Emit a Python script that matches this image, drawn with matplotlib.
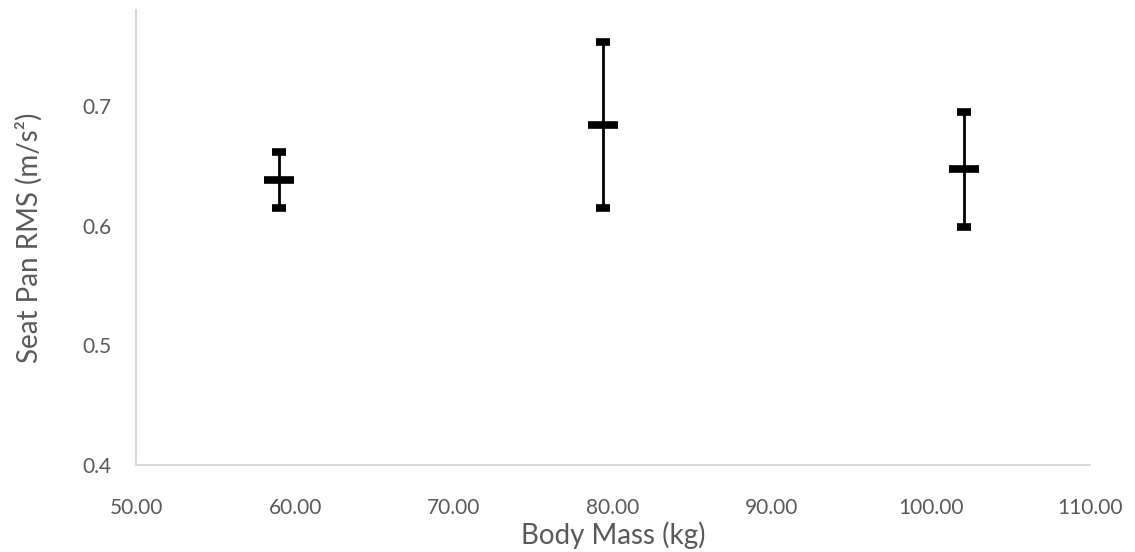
import matplotlib
matplotlib.use("Agg")
import matplotlib.pyplot as plt

# Mean seat pan RMS per body-mass group, with +/- error
body_mass = [59.0, 79.4, 102.1]
rms_mean = [0.638, 0.684, 0.647]
rms_err = [0.023, 0.069, 0.048]

x_ticks = [50, 60, 70, 80, 90, 100, 110]
y_ticks = [0.4, 0.5, 0.6, 0.7]

plt.rcParams["font.family"] = ["Lato", "DejaVu Sans"]
GREY = "#595959"

fig = plt.figure(figsize=(11.35, 5.52), dpi=100)
ax = fig.add_axes([0.120, 0.1576, 0.840, 0.8243])

ax.errorbar(body_mass, rms_mean, yerr=rms_err, fmt="_", color="black",
            markersize=21, markeredgewidth=5.5, ecolor="black",
            elinewidth=2, capsize=5, capthick=1.4)

ax.set_xlim(50, 110)
ax.set_ylim(0.4, 0.780)
ax.set_xticks(x_ticks)
ax.set_xticklabels([f"{v:.2f}" for v in x_ticks])
ax.set_yticks(y_ticks)
ax.set_yticklabels([f"{v:g}" for v in y_ticks])
ax.tick_params(length=0, labelsize=15, colors=GREY)
ax.tick_params(axis="x", pad=24)
ax.tick_params(axis="y", pad=18)

for side in ("top", "right"):
    ax.spines[side].set_visible(False)
for side in ("left", "bottom"):
    ax.spines[side].set_color("#d9d9d9")
    ax.spines[side].set_linewidth(1.5)

ax.set_xlabel("Body Mass (kg)", fontsize=20, color=GREY, labelpad=2)
ax.set_ylabel("Seat Pan RMS (m/s²)", fontsize=20, color=GREY, labelpad=28)

fig.savefig("out.png", dpi=100)
